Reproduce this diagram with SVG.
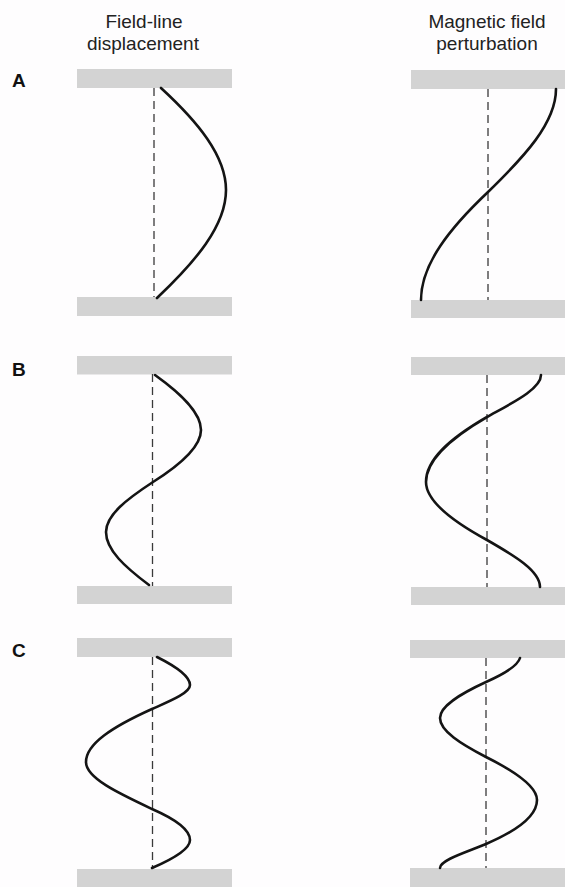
<svg xmlns="http://www.w3.org/2000/svg" width="565" height="887" viewBox="0 0 565 887">
<style>
.bg{fill:#fefdfe}
.bar{fill:#d3d3d3}
.axis{stroke:#3a3a3a;stroke-width:1.3;stroke-dasharray:8 5;fill:none}
.wave{stroke:#141414;stroke-width:2.6;fill:none;stroke-linecap:round;stroke-linejoin:round}
.hdr{font-family:"Liberation Sans",Arial,sans-serif;font-size:19px;fill:#222;text-anchor:middle}
.lbl{font-family:"Liberation Sans",Arial,sans-serif;font-size:19px;font-weight:bold;fill:#111}
</style>
<rect class="bg" x="0" y="0" width="565" height="887"/>
<g id="headers">
<text class="hdr" x="144" y="28">Field-line</text>
<text class="hdr" x="143" y="50">displacement</text>
<text class="hdr" x="487" y="28">Magnetic field</text>
<text class="hdr" x="487" y="50">perturbation</text>
</g>
<g id="labels">
<text class="lbl" x="12" y="86.5">A</text>
<text class="lbl" x="12" y="376">B</text>
<text class="lbl" x="12" y="656.5">C</text>
</g>
<g id="panel-A-left">
<rect class="bar" x="77" y="69" width="155" height="19"/>
<rect class="bar" x="77" y="297" width="155" height="19"/>
<line class="axis" x1="154" y1="88" x2="154" y2="297"/>
<path class="wave" d="M161,88 C198,122 226,156 226,190 C226,226 195,262 157,298"/>
</g>
<g id="panel-A-right">
<rect class="bar" x="411" y="70" width="154" height="19"/>
<rect class="bar" x="411" y="300" width="154" height="18"/>
<line class="axis" x1="488" y1="89" x2="488" y2="300"/>
<path class="wave" d="M556,89 C556,123 524,157 488,192 C450,228 421,264 421,300"/>
</g>
<g id="panel-B-left">
<rect class="bar" x="77" y="356" width="155" height="18.5"/>
<rect class="bar" x="77" y="586" width="155" height="18"/>
<line class="axis" x1="152.5" y1="374" x2="152.5" y2="586"/>
<path class="wave" d="M155,375 C180,393 201,412 201,430 C201,447 180,465 153,482 C127,499 106,515 106,532 C106,550 125,567 149,585"/>
</g>
<g id="panel-B-right">
<rect class="bar" x="411" y="357" width="154" height="18"/>
<rect class="bar" x="411" y="587" width="154" height="18"/>
<line class="axis" x1="487" y1="375" x2="487" y2="587"/>
<path class="wave" d="M541,375 C541,389 512,403 487,417 C449,439 426,460 426,482 C426,501 452,521 487,540 C515,556 540,571 540,587"/>
</g>
<g id="panel-C-left">
<rect class="bar" x="77" y="638" width="155" height="19"/>
<rect class="bar" x="77" y="869" width="155" height="18"/>
<line class="axis" x1="152.5" y1="657" x2="152.5" y2="869"/>
<path class="wave" d="M157,657 C175,666 190,676 190,685 C190,693 170,701 152,709 C112,727 86,744 86,762 C86,778 118,793 152,809 C175,819 190,830 190,840 C190,849 173,859 152,868"/>
</g>
<g id="panel-C-right">
<rect class="bar" x="410" y="640" width="155" height="18"/>
<rect class="bar" x="410" y="868" width="155" height="19"/>
<line class="axis" x1="486" y1="658" x2="486" y2="868"/>
<path class="wave" d="M520,658 C518,665 504,674 486,682 C460,694 440,706 440,718 C440,731 461,744 486,757 C514,771 537,786 537,800 C537,815 521,829 486,844 C467,852 440,860 440,868"/>
</g>
</svg>
